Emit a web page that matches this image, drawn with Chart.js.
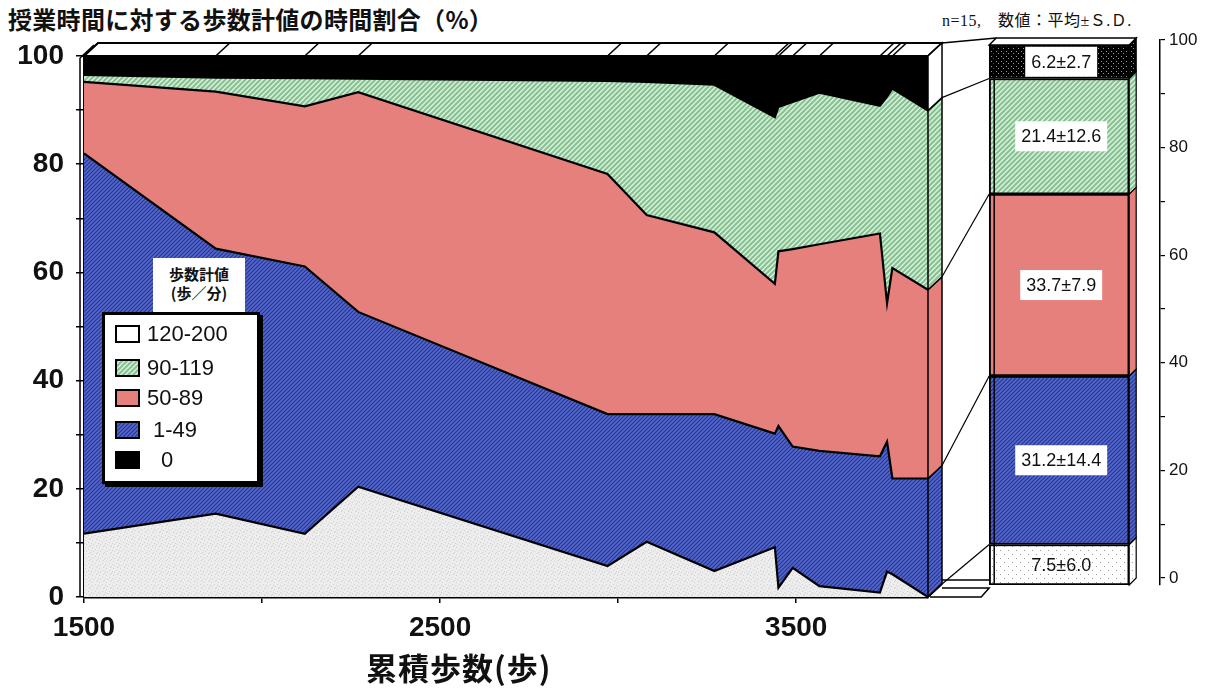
<!DOCTYPE html>
<html lang="ja">
<head>
<meta charset="utf-8">
<script src="https://cdn.jsdelivr.net/npm/chart.js@4.4.1/dist/chart.umd.min.js"></script>
<style>
  html, body { margin: 0; padding: 0; background: #fff; }
  body { width: 1207px; height: 697px; position: relative; overflow: hidden;
         font-family: "Liberation Sans", "Noto Sans CJK JP", sans-serif; color: #111; }
  canvas { position: absolute; top: 0; }
  #areaChart { left: 0; }
  #meanChart { left: 930px; }
  .title { position: absolute; left: 8px; top: 1px; font-family: "Noto Sans CJK JP", sans-serif;
           font-size: 24px; font-weight: bold; white-space: nowrap; letter-spacing: 0.3px; }
  .note { position: absolute; left: 942px; top: 7px; font-family: "Liberation Serif", "Noto Sans CJK JP", serif;
          font-size: 16px; white-space: nowrap; letter-spacing: 0.5px; }
  .xtitle { position: absolute; left: 366px; top: 644px; font-family: "Noto Sans CJK JP", sans-serif;
            font-size: 31px; font-weight: bold; white-space: nowrap; letter-spacing: 1px; }
  .legend-head { position: absolute; left: 153px; top: 258px; width: 92px; height: 54px; background: #fff;
                 font-family: "Noto Sans CJK JP", sans-serif; font-size: 15px; font-weight: bold;
                 text-align: center; line-height: 19px; padding-top: 6px; box-sizing: border-box; }
  .legend { position: absolute; left: 102px; top: 312px; width: 158px; height: 172px; background: #fff;
            border: 3px solid #000; box-shadow: 3px 3px 0 #000; box-sizing: border-box; }
  .legend .item { position: absolute; left: 10px; height: 22px; font-size: 22px; line-height: 22px; white-space: nowrap; }
  .legend .sw { position: absolute; left: 0; top: 2px; width: 25px; height: 18px; box-sizing: border-box;
                border: 2px solid #000; }
  .legend .lab { position: absolute; top: 0; }
</style>
</head>
<body>
<div class="title">授業時間に対する歩数計値の時間割合（%）</div>
<div class="note">n=15,　数値：平均±Ｓ.Ｄ.</div>
<canvas id="areaChart" width="960" height="697"></canvas>
<canvas id="meanChart" width="277" height="697"></canvas>
<div class="xtitle">累積歩数(歩)</div>
<div class="legend-head">歩数計値<br>(歩／分)</div>
<div class="legend" id="legend"></div>

<script>
// ---------------- data ----------------
// cumulative step count (x) at each sample point
const steps = [1500, 1870, 2120, 2270, 2970, 3080, 3270, 3440, 3450, 3490, 3565, 3735, 3755, 3770, 3870];
// share of class time (%) by pedometer rate band (steps/min)
const rate120to200 = [11.7, 15.4, 11.7, 20.4, 5.7, 10.2, 4.8, 9.2, 1.7, 5.4, 2.0, 0.8, 4.7, 4.2, 0.0];
const rate1to49    = [70.3, 49.0, 49.4, 32.3, 28.1, 23.6, 29.0, 21.0, 29.9, 22.4, 25.0, 25.2, 24.0, 17.7, 21.9];
const rate50to89   = [13.2, 29.0, 29.6, 40.6, 44.4, 36.8, 33.6, 27.7, 32.3, 36.5, 38.2, 41.2, 25.6, 38.9, 34.9];
const rate90to119  = [1.3, 2.6, 5.2, 2.5, 17.2, 24.6, 27.3, 30.8, 26.7, 27.2, 28.0, 23.6, 38.2, 33.2, 33.1];
const rate0        = [3.5, 4.0, 4.1, 4.2, 4.6, 4.8, 5.3, 11.3, 9.4, 8.5, 6.8, 9.2, 7.5, 6.0, 10.1];
// mean ± S.D. of each band (bottom to top)
const bandLabels = ['120-200', '1-49', '50-89', '90-119', '0'];
const meanRate = [7.5, 31.2, 33.7, 21.4, 6.2];
const sdRate   = [6.0, 14.4, 7.9, 12.6, 2.7];
// axis ticks
const xTickValues = [1500, 2000, 2500, 3000, 3500];
const xTickLabels = ['1500', '', '2500', '', '3500'];
const yTickValues = [0, 10, 20, 30, 40, 50, 60, 70, 80, 90, 100];
const yTickLabels = ['0', '', '20', '', '40', '', '60', '', '80', '', '100'];
// legend order as printed
const legendOrder = ['120-200', '90-119', '50-89', '1-49', '0'];

// ---------------- fills ----------------
function stripeTile(n, base, line, lw) {
  const c = document.createElement('canvas'); c.width = c.height = n;
  const g = c.getContext('2d');
  g.fillStyle = base; g.fillRect(0, 0, n, n);
  g.strokeStyle = line; g.lineWidth = lw; g.beginPath();
  g.moveTo(-1, n + 1); g.lineTo(n + 1, -1);
  g.moveTo(-1, 1); g.lineTo(1, -1);
  g.moveTo(n - 1, n + 1); g.lineTo(n + 1, n - 1);
  g.stroke();
  return c;
}
function dotTile(n, base, dot, pts) {
  const c = document.createElement('canvas'); c.width = c.height = n;
  const g = c.getContext('2d');
  g.fillStyle = base; g.fillRect(0, 0, n, n);
  g.fillStyle = dot;
  pts.forEach(([x, y]) => g.fillRect(x, y, 1, 1));
  return c;
}
const pctx = document.createElement('canvas').getContext('2d');
const tiles = {
  '120-200': dotTile(7, '#ededed', '#d0d0d0', [[1, 1], [4, 3], [2, 5], [6, 6], [5, 0], [0, 4]]),
  '1-49':    stripeTile(4, '#5468cc', '#26368f', 1.2),
  '50-89':   null,
  '90-119':  stripeTile(5, '#dcefde', '#84c290', 2.0),
  '0':       null
};
const solid = { '50-89': '#e6807c', '0': '#000000' };
function fillFor(label) {
  return tiles[label] ? pctx.createPattern(tiles[label], 'repeat') : solid[label];
}
const barTiles = {
  '120-200': dotTile(8, '#ffffff', '#9a9a9a', [[2, 2], [6, 6]]),
  '0': dotTile(5, '#000000', '#9a9a9a', [[1, 1], [3, 3]])
};
function barFillFor(label) {
  return barTiles[label] ? pctx.createPattern(barTiles[label], 'repeat') : fillFor(label);
}

// ---------------- legend ----------------
const legendEl = document.getElementById('legend');
const legendTops = [8, 42, 72, 104, 134];
legendOrder.forEach((lab, i) => {
  const item = document.createElement('div');
  item.className = 'item'; item.style.top = legendTops[i] + 'px';
  const sw = document.createElement('span'); sw.className = 'sw';
  if (lab === '120-200') sw.style.background = '#fff';
  else if (tiles[lab]) sw.style.backgroundImage = 'url(' + tiles[lab].toDataURL() + ')';
  else sw.style.background = solid[lab];
  const tx = document.createElement('span'); tx.className = 'lab';
  tx.textContent = lab;
  tx.style.left = (lab === '0' ? 46 : lab === '1-49' ? 38 : 32) + 'px';
  item.appendChild(sw); item.appendChild(tx); legendEl.appendChild(item);
});

// ---------------- area chart ----------------
const DX = 14, DY = 13;   // depth offset of the 3-D faces
const bandSeries = [rate120to200, rate1to49, rate50to89, rate90to119, rate0];
const lastIdx = steps.length - 1;

const depthFaces = {
  id: 'depthFaces',
  afterDatasetsDraw(chart) {
    const { ctx, chartArea: { left, right, top, bottom }, scales: { x, y } } = chart;
    ctx.save();
    ctx.lineJoin = 'miter';
    // top face
    ctx.beginPath();
    ctx.moveTo(left, top); ctx.lineTo(right, top);
    ctx.lineTo(right + DX, top - DY); ctx.lineTo(left + DX, top - DY); ctx.closePath();
    ctx.fillStyle = '#fff'; ctx.fill();
    ctx.strokeStyle = '#000'; ctx.lineWidth = 2; ctx.stroke();
    ctx.lineWidth = 1.6;
    steps.forEach(s => {
      const px = x.getPixelForValue(s);
      ctx.beginPath(); ctx.moveTo(px, top); ctx.lineTo(px + DX, top - DY); ctx.stroke();
    });
    // right side face, one slab per band
    let lower = 0;
    bandSeries.forEach((arr, i) => {
      const upper = lower + arr[lastIdx];
      const y0 = y.getPixelForValue(lower), y1 = y.getPixelForValue(upper);
      ctx.beginPath();
      ctx.moveTo(right, y0); ctx.lineTo(right, y1);
      ctx.lineTo(right + DX, y1 - DY); ctx.lineTo(right + DX, y0 - DY); ctx.closePath();
      ctx.fillStyle = i === bandSeries.length - 1 ? '#fff' : chart.data.datasets[i].backgroundColor;
      ctx.fill();
      ctx.lineWidth = 1.5; ctx.strokeStyle = '#000'; ctx.stroke();
      lower = upper;
    });
    // left wall
    ctx.lineWidth = 1.5;
    ctx.beginPath(); ctx.moveTo(left - 4, top + 2); ctx.lineTo(left - 4, bottom);
    ctx.moveTo(left - 4, top + 2); ctx.lineTo(left - 4 + DX, top - DY + 2); ctx.stroke();
    // floor under the side face
    ctx.beginPath();
    ctx.moveTo(right, bottom); ctx.lineTo(right + DX, bottom - DY);
    ctx.stroke();
    ctx.restore();
  }
};

const areaDatasets = bandSeries.map((arr, i) => ({
  label: bandLabels[i],
  data: steps.map((s, k) => ({ x: s, y: arr[k] })),
  fill: i === 0 ? 'origin' : '-1',
  backgroundColor: fillFor(bandLabels[i]),
  borderColor: '#000',
  borderWidth: 2.2,
  pointRadius: 0,
  tension: 0
}));

const bigTickFont = { family: "'Liberation Sans', sans-serif", size: 28, weight: 'bold' };

const areaChart = new Chart(document.getElementById('areaChart'), {
  type: 'line',
  data: { datasets: areaDatasets },
  options: {
    responsive: false, animation: false, events: [],
    layout: { padding: { top: 56, right: 32, left: 0, bottom: 0 } },
    plugins: { legend: { display: false }, tooltip: { enabled: false } },
    scales: {
      x: {
        type: 'linear', min: steps[0], max: steps[lastIdx],
        afterFit(s) { s.height = 100; },
        afterBuildTicks(s) { s.ticks = xTickValues.map(v => ({ value: v })); },
        ticks: { callback: (v, i) => xTickLabels[i], font: bigTickFont, color: '#111', padding: 8,
                 maxRotation: 0, autoSkip: false },
        grid: { drawOnChartArea: false, tickLength: 6, color: '#000', lineWidth: 1.5 },
        border: { color: '#000', width: 2.5 }
      },
      y: {
        stacked: true, min: 0, max: 100,
        afterFit(s) { s.width = 84; },
        afterBuildTicks(s) { s.ticks = yTickValues.map(v => ({ value: v })); },
        ticks: { callback: (v, i) => yTickLabels[i], font: bigTickFont, color: '#111', padding: 12 },
        grid: { drawOnChartArea: false, tickLength: 8, color: '#000', lineWidth: 1.5 },
        border: { color: '#000', width: 2.5 }
      }
    }
  },
  plugins: [depthFaces]
});

// ---------------- mean bar ----------------
const BAR_X = 0.376, BAR_W = 140, BDX = 7, BDY = 7;
const CANVAS_SHIFT = 930;   // left offset of the bar canvas

const barDecor = {
  id: 'barDecor',
  afterDatasetsDraw(chart) {
    const { ctx } = chart;
    const bars = chart.data.datasets.map((_, i) => chart.getDatasetMeta(i).data[0]);
    const barL = bars[0].x - bars[0].width / 2, barR = bars[0].x + bars[0].width / 2;
    const topY = bars[bars.length - 1].y;
    ctx.save();
    // side face of the bar
    bars.forEach((b, i) => {
      ctx.beginPath();
      ctx.moveTo(barR, b.base); ctx.lineTo(barR, b.y);
      ctx.lineTo(barR + BDX, b.y - BDY); ctx.lineTo(barR + BDX, b.base - BDY); ctx.closePath();
      ctx.fillStyle = chart.data.datasets[i].backgroundColor; ctx.fill();
      ctx.strokeStyle = '#000'; ctx.lineWidth = 1.2; ctx.stroke();
    });
    // top face
    ctx.beginPath();
    ctx.moveTo(barL, topY); ctx.lineTo(barR, topY);
    ctx.lineTo(barR + BDX, topY - BDY); ctx.lineTo(barL + BDX, topY - BDY); ctx.closePath();
    ctx.fillStyle = '#fff'; ctx.fill(); ctx.lineWidth = 1.5; ctx.stroke();
    // back-left edge
    ctx.beginPath(); ctx.moveTo(barL + 5, topY); ctx.lineTo(barL + 5, bars[0].base); ctx.stroke();

    // links from the end of the area chart to the bar
    const a = areaChart;
    const ax = a.chartArea.right + DX - CANVAS_SHIFT;
    let cum = 0;
    ctx.lineWidth = 1.2;
    for (let i = 0; i < bandSeries.length - 1; i++) {
      cum += bandSeries[i][lastIdx];
      const ay = a.scales.y.getPixelForValue(cum) - DY;
      ctx.beginPath(); ctx.moveTo(ax, ay); ctx.lineTo(barL, bars[i].y); ctx.stroke();
    }
    // connecting panel frame
    const aTop = a.chartArea.top - DY, aBot = a.chartArea.bottom;
    ctx.lineWidth = 1.5;
    ctx.beginPath();
    ctx.moveTo(ax, aTop); ctx.lineTo(barL + BDX, topY - BDY);
    ctx.moveTo(ax - DX, aBot); ctx.lineTo(barL - 8, aBot);
    ctx.lineTo(barL, aBot - 9); ctx.lineTo(ax, aBot - 9);
    ctx.moveTo(ax, aBot - 17); ctx.lineTo(barL, aBot - 17);
    ctx.stroke();

    // value labels
    ctx.font = "18px 'Liberation Sans', sans-serif";
    ctx.textAlign = 'center'; ctx.textBaseline = 'middle';
    bars.forEach((b, i) => {
      const txt = meanRate[i].toFixed(1) + '±' + sdRate[i].toFixed(1);
      const cy = (b.y + b.base) / 2;
      const cx = (barL + barR) / 2 + 2;
      const w = ctx.measureText(txt).width + 12;
      const h = Math.min(30, Math.abs(b.base - b.y) - 3);
      if (i > 0) {
        ctx.fillStyle = '#fff';
        ctx.fillRect(cx - w / 2, cy - h / 2, w, h);
      }
      ctx.fillStyle = '#111';
      ctx.fillText(txt, cx, cy + 1);
    });
    ctx.restore();
  }
};

new Chart(document.getElementById('meanChart'), {
  type: 'bar',
  data: {
    datasets: meanRate.map((m, i) => ({
      label: bandLabels[i],
      data: [{ x: BAR_X, y: m }],
      backgroundColor: barFillFor(bandLabels[i]),
      borderColor: '#000',
      borderWidth: 2,
      borderSkipped: false,
      barThickness: BAR_W
    }))
  },
  options: {
    responsive: false, animation: false, events: [],
    layout: { padding: { top: 40, right: 0, left: 57, bottom: 112 } },
    plugins: { legend: { display: false }, tooltip: { enabled: false } },
    scales: {
      x: { type: 'linear', min: 0, max: 1, display: false, stacked: true },
      y: { stacked: true, min: 0, max: 100.93, display: false },
      y2: {
        position: 'right', min: -1.3, max: 100,
        afterFit(s) { s.width = 47; },
        afterBuildTicks(s) { s.ticks = yTickValues.map(v => ({ value: v })); },
        ticks: { callback: (v, i) => yTickLabels[i], font: { family: "'Liberation Sans', sans-serif", size: 17 },
                 color: '#111', padding: 4 },
        grid: { drawOnChartArea: false, tickLength: 5, color: '#000', lineWidth: 1.2 },
        border: { color: '#000', width: 1.5 }
      }
    }
  },
  plugins: [barDecor]
});
</script>
</body>
</html>
